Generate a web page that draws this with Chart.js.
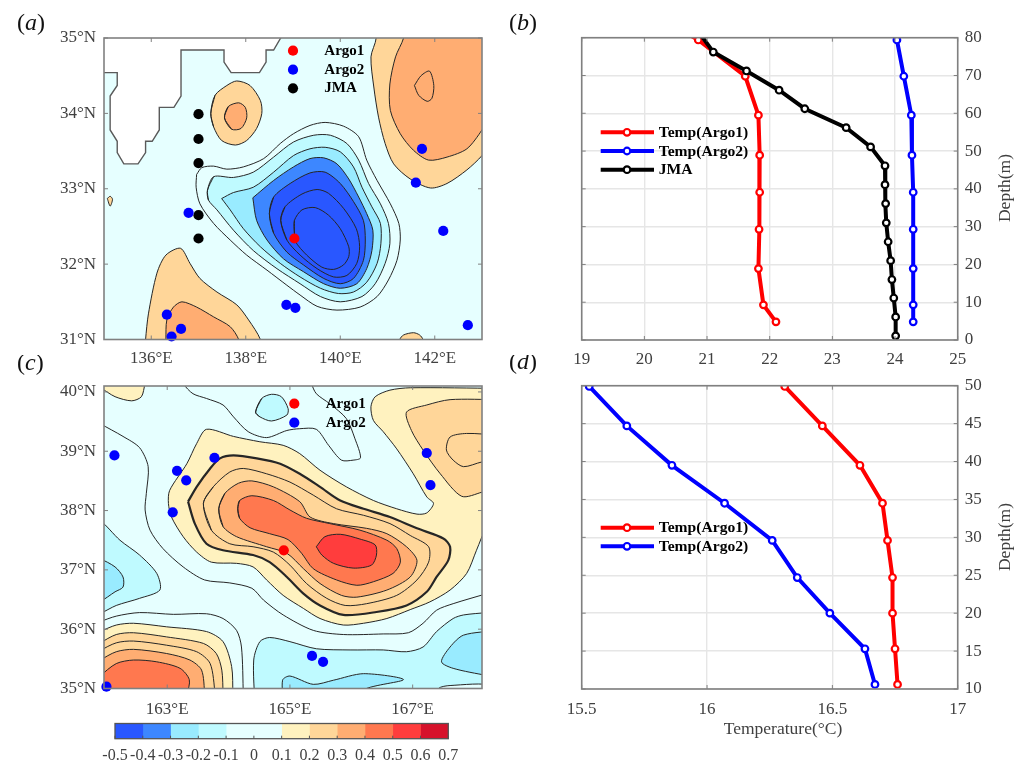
<!DOCTYPE html>
<html><head><meta charset="utf-8">
<style>html,body{margin:0;padding:0;background:#fff;width:1024px;height:765px;overflow:hidden}canvas{position:absolute}</style>
<script src="https://cdn.jsdelivr.net/npm/chart.js@4/dist/chart.umd.js"></script>
</head><body>
<script>
// ---------- panel (a) stations ----------
const aArgo1 = [[139.03,32.34]];
const aArgo2 = [[141.73,33.53],[141.60,33.08],[142.18,32.44],[142.70,31.19],[136.79,32.68],[138.86,31.46],[139.05,31.42],[136.33,31.33],[136.63,31.14],[136.43,31.04]];
const aJMA = [[137.0,33.99],[137.0,33.66],[137.0,33.34],[137.0,32.65],[137.0,32.34]];
// ---------- panel (a) contours (lon, lat) ----------
const aLand = [[138.85,35.1],[138.74,35],[138.59,34.84],[138.43,34.84],[138.43,34.68],[138.29,34.54],[137.69,34.54],[137.54,34.68],[137.54,34.84],[136.63,34.84],[136.63,34.23],[136.48,34.08],[136.17,34.08],[136.17,33.78],[136.02,33.63],[135.88,33.63],[135.88,33.48],[135.72,33.33],[135.42,33.33],[135.28,33.48],[135.28,33.63],[135.13,33.78],[135.13,34.23],[135.28,34.37],[135.28,34.54],[134.9,34.54],[134.9,35.1],[138.85,35.1]];
const aN1 = [[136.96,33.19],[137.07,33.28],[137.32,33.30],[137.60,33.26],[137.95,33.29],[138.38,33.40],[138.73,33.60],[139.01,33.73],[139.36,33.84],[139.68,33.88],[140.07,33.83],[140.39,33.69],[140.56,33.38],[140.78,33.11],[141.06,32.80],[141.24,32.54],[141.27,32.32],[141.20,32.05],[141.02,31.79],[140.78,31.57],[140.42,31.43],[139.93,31.39],[139.51,31.44],[139.15,31.59],[138.87,31.72],[138.45,31.92],[138.02,32.12],[137.67,32.32],[137.32,32.54],[137.03,32.80],[136.95,33.02]];
const aN2 = [[137.19,32.98],[137.32,33.16],[137.74,33.15],[138.16,33.22],[138.59,33.42],[139.01,33.62],[139.44,33.71],[139.79,33.71],[140.14,33.60],[140.39,33.38],[140.60,33.07],[140.85,32.80],[141.02,32.54],[141.05,32.27],[140.95,32.01],[140.74,31.74],[140.46,31.57],[140.00,31.50],[139.58,31.57],[139.15,31.74],[138.66,31.94],[138.16,32.18],[137.74,32.45],[137.39,32.72],[137.21,32.85]];
const aN3 = [[137.49,32.87],[137.74,32.95],[138.16,33.02],[138.59,33.22],[139.01,33.44],[139.36,33.53],[139.68,33.55],[140.00,33.49],[140.28,33.29],[140.46,33.02],[140.67,32.76],[140.85,32.54],[140.86,32.27],[140.78,32.01],[140.56,31.76],[140.28,31.63],[139.96,31.61],[139.58,31.68],[139.15,31.83],[138.73,32.01],[138.31,32.23],[137.95,32.47],[137.67,32.72]];
const aN4 = [[138.15,32.88],[138.59,33.11],[139.01,33.29],[139.36,33.40],[139.65,33.41],[139.93,33.33],[140.18,33.13],[140.39,32.89],[140.56,32.67],[140.69,32.45],[140.67,32.18],[140.56,31.94],[140.35,31.74],[140.00,31.68],[139.65,31.74],[139.22,31.90],[138.80,32.07],[138.45,32.32],[138.23,32.58]];
const aN5 = [[138.50,32.67],[138.59,32.89],[138.94,33.07],[139.36,33.21],[139.68,33.22],[140.00,33.07],[140.28,32.83],[140.49,32.58],[140.53,32.32],[140.49,32.05],[140.28,31.81],[140.00,31.74],[139.65,31.81],[139.22,31.99],[138.87,32.16],[138.59,32.41]];
const aN6 = [[138.74,32.58],[138.83,32.76],[139.19,32.93],[139.51,32.99],[139.75,32.94],[140.07,32.74],[140.34,32.47],[140.41,32.23],[140.35,32.01],[140.14,31.85],[139.86,31.83],[139.51,31.94],[139.15,32.12],[138.87,32.32]];
const aN7 = [[139.03,32.41],[139.03,32.58],[139.19,32.72],[139.47,32.75],[139.75,32.65],[140.00,32.47],[140.18,32.23],[140.18,32.10],[140.07,31.99],[139.86,31.93],[139.61,31.96],[139.29,32.12],[139.05,32.30]];
const aNE1 = [[140.70,35.3],[140.76,35],[140.65,34.75],[140.71,34.35],[140.81,33.95],[140.95,33.60],[141.13,33.33],[141.48,33.13],[141.91,33.01],[142.26,33.07],[142.68,33.25],[143.0,33.44],[143.3,33.7],[143.3,35.3]];
const aNE2 = [[141.40,35.3],[141.34,35],[141.17,34.75],[141.05,34.39],[141.06,34.04],[141.27,33.73],[141.55,33.51],[141.87,33.38],[142.26,33.42],[142.68,33.53],[143.0,33.78],[143.3,34.1],[143.3,35.3]];
const aNE3 = [[141.57,34.37],[141.71,34.50],[141.89,34.56],[141.98,34.37],[141.94,34.20],[141.84,34.16],[141.66,34.24]];
const aM1 = [[137.26,34.00],[137.35,34.24],[137.60,34.37],[137.81,34.43],[138.09,34.37],[138.31,34.17],[138.34,34.00],[138.23,33.80],[138.02,33.64],[137.78,33.58],[137.49,33.64],[137.32,33.82]];
const aM2 = [[137.55,33.94],[137.63,34.09],[137.85,34.14],[137.99,34.08],[138.02,33.94],[137.90,33.80],[137.70,33.79]];
const aS1 = [[135.85,30.7],[135.88,31],[135.94,31.34],[136.12,31.88],[136.31,32.12],[136.62,32.21],[136.82,32.01],[137.03,31.81],[137.39,31.63],[137.81,31.46],[138.06,31.26],[138.31,31],[138.4,30.7]];
const aS2 = [[136.30,30.7],[136.31,31],[136.33,31.26],[136.47,31.43],[136.65,31.50],[136.96,31.43],[137.32,31.30],[137.67,31.17],[137.85,31],[137.95,30.7]];
const aS3 = [[141.20,30.8],[141.26,31],[141.34,31.06],[141.55,31.09],[141.68,31.06],[141.75,31],[141.8,30.8]];
const aIsle = [[135.07,32.87],[135.13,32.90],[135.18,32.86],[135.13,32.77]];
// ---------- panel (c) stations ----------
const cArgo1 = [[164.90,37.33]];
const cArgo2 = [[162.14,38.93],[163.77,38.89],[163.16,38.67],[163.31,38.51],[163.09,37.97],[167.23,38.97],[167.29,38.43],[165.36,35.55],[165.54,35.45],[162.01,35.03]];
// ---------- panel (c) contours (lon, lat) ----------
const cY1 = [[168.4,40.06],[166.96,40.07],[166.63,40.03],[166.39,39.92],[166.32,39.75],[166.36,39.52],[166.52,39.33],[166.74,39.04],[167.01,38.62],[167.23,38.23],[167.34,38.12],[167.23,37.96],[167.07,37.94],[166.74,38.03],[166.36,38.17],[165.92,38.40],[165.49,38.68],[165.16,38.96],[164.89,39.10],[164.51,39.16],[164.08,39.25],[163.64,39.37],[163.48,39.13],[163.32,38.79],[163.04,38.34],[163.02,38.12],[163.07,37.89],[163.26,37.56],[163.48,37.30],[163.72,37.13],[164.13,37.11],[164.40,37.05],[164.62,36.83],[164.89,36.57],[165.22,36.35],[165.49,36.18],[165.87,36.07],[166.20,36.10],[166.58,36.18],[166.96,36.33],[167.28,36.46],[167.61,36.66],[167.88,36.94],[168.04,37.33],[168.21,37.73],[168.4,37.9]];
const cTL = [[161.7,40.3],[161.7,40.1],[161.90,40.07],[162.15,39.92],[162.42,39.85],[162.58,39.92],[162.64,40.14],[162.7,40.3]];
const cNorth = [[163.2,40.3],[163.26,40.14],[163.42,39.97],[163.64,39.89],[163.91,39.78],[164.08,39.58],[164.32,39.33],[164.62,39.23],[164.95,39.35],[165.16,39.38],[165.43,39.37],[165.63,39.10],[165.84,38.85],[166.03,38.85],[166.15,38.89],[166.06,39.21],[165.92,39.55],[165.65,39.80],[165.43,39.97],[165.35,40.14],[165.3,40.3]];
const cBlob = [[164.44,39.66],[164.54,39.89],[164.70,39.96],[164.86,39.92],[164.97,39.72],[164.95,39.61],[164.70,39.51],[164.51,39.58]];
const cMid = [[161.7,39.6],[161.90,39.47],[162.28,39.25],[162.55,39.06],[162.69,38.74],[162.66,38.29],[162.64,38.01],[162.72,37.67],[162.93,37.36],[163.26,37.05],[163.61,36.83],[164.02,36.78],[164.38,36.69],[164.57,36.49],[164.89,36.24],[165.38,35.98],[165.87,35.91],[166.52,35.92],[166.93,35.94],[167.17,36.10],[167.39,36.32],[167.66,36.43],[168.21,36.60],[168.4,36.66]];
const cLow = [[161.7,36.0],[161.90,36.12],[162.17,36.22],[162.55,36.28],[163.10,36.25],[163.64,36.26],[163.91,36.18],[164.13,35.98],[164.21,35.70],[164.24,34.9],[164.24,34.7]];
const cThick = [[163.34,38.15],[163.48,38.40],[163.70,38.71],[163.86,38.88],[164.08,38.93],[164.46,38.88],[164.84,38.79],[165.16,38.62],[165.49,38.40],[165.82,38.17],[166.20,38.03],[166.63,37.89],[167.07,37.70],[167.50,37.53],[167.61,37.39],[167.58,37.16],[167.39,36.88],[167.23,36.63],[166.90,36.40],[166.41,36.29],[165.87,36.24],[165.49,36.40],[165.22,36.60],[164.95,36.88],[164.67,37.13],[164.40,37.25],[163.91,37.33],[163.64,37.44],[163.45,37.78]];
const cLine2 = [[163.59,38.12],[163.75,38.40],[164.02,38.65],[164.24,38.71],[164.62,38.62],[165.00,38.48],[165.38,38.26],[165.76,38.03],[166.20,37.92],[166.63,37.78],[166.96,37.58],[167.26,37.39],[167.26,37.13],[167.07,36.83],[166.74,36.57],[166.25,36.43],[165.90,36.40],[165.60,36.52],[165.27,36.77],[165.00,37.08],[164.73,37.30],[164.40,37.39],[164.02,37.44],[163.72,37.67]];
const cL3 = [[163.84,38.03],[163.94,38.29],[164.16,38.46],[164.38,38.50],[164.73,38.40],[165.16,38.15],[165.33,37.89],[165.71,37.78],[166.25,37.70],[166.58,37.61],[166.90,37.39],[167.07,37.16],[166.96,36.88],[166.58,36.66],[166.09,36.54],[165.84,36.57],[165.49,36.77],[165.22,37.02],[164.95,37.28],[164.62,37.39],[164.13,37.56],[163.91,37.73]];
const cL4 = [[164.15,38.03],[164.18,38.17],[164.38,38.25],[164.73,38.17],[165.00,38.01],[165.27,37.87],[165.65,37.78],[166.14,37.67],[166.58,37.50],[166.74,37.36],[166.80,37.13],[166.68,36.94],[166.36,36.80],[166.09,36.74],[165.76,36.83],[165.38,37.02],[165.19,37.28],[164.97,37.51],[164.67,37.61],[164.35,37.71],[164.18,37.87]];
const cL5 = [[165.43,37.39],[165.57,37.56],[165.82,37.60],[166.14,37.52],[166.39,37.42],[166.41,37.25],[166.33,37.08],[166.03,37.03],[165.71,37.11],[165.52,37.25]];
const cNE = [[168.4,39.87],[167.61,39.87],[167.23,39.78],[166.90,39.66],[166.98,39.35],[167.17,39.02],[167.45,38.62],[167.80,38.24],[168.13,38.31],[168.4,38.4]];
const cNEin = [[168.4,39.27],[167.88,39.30],[167.61,39.24],[167.55,39.02],[167.66,38.85],[167.83,38.74],[168.13,38.82],[168.4,38.85]];
const cWest = [[161.7,37.9],[161.90,37.84],[162.23,37.50],[162.55,37.25],[162.83,36.94],[162.88,36.66],[162.55,36.52],[162.17,36.40],[161.90,36.26],[161.7,36.2]];
const cWest2 = [[161.7,37.25],[161.90,37.19],[162.15,37.05],[162.28,36.88],[162.28,36.71],[162.15,36.63],[161.90,36.46],[161.7,36.4]];
const cSouth = [[164.43,34.7],[164.41,35.48],[164.51,35.79],[164.67,35.86],[165.00,35.79],[165.43,35.67],[165.98,35.65],[166.52,35.65],[166.90,35.62],[167.17,35.70],[167.39,35.96],[167.66,36.18],[167.83,36.24],[168.21,36.28],[168.4,36.3],[168.4,34.7]];
const cSouth2 = [[164.90,34.7],[164.88,35.14],[165.00,35.21],[165.38,35.07],[165.71,35.14],[166.20,35.25],[166.85,35.15],[166.20,34.98],[166.0,34.7]];
const cEast2 = [[168.4,35.98],[167.83,35.90],[167.61,35.70],[167.47,35.45],[167.66,35.34],[168.21,35.22],[168.4,35.2]];
const cSouth3 = [[167.36,34.8],[167.42,35],[167.61,35.05],[168.3,35.05],[168.3,34.8]];
const cSW1 = [[161.7,35.9],[161.90,35.96],[162.17,36.07],[162.45,36.10],[162.99,36.04],[163.64,35.96],[163.91,35.79],[164.05,35.37],[164.07,34.9],[164.07,34.7],[161.7,34.7]];
const cSW2 = [[161.7,35.6],[161.90,35.76],[162.17,35.91],[162.45,35.94],[162.99,35.87],[163.59,35.76],[163.80,35.59],[163.89,35.31],[163.91,34.9],[163.91,34.7],[161.7,34.7]];
const cSW3 = [[161.7,35.45],[161.90,35.63],[162.17,35.77],[162.45,35.80],[162.99,35.73],[163.48,35.62],[163.70,35.42],[163.78,34.9],[163.78,34.7]];
const cSW4 = [[161.7,35.3],[161.90,35.47],[162.17,35.62],[162.45,35.66],[162.99,35.59],[163.37,35.48],[163.56,35.31],[163.61,34.9],[163.61,34.7],[161.7,34.7]];
const cSW5 = [[161.7,34.95],[161.90,35.20],[162.17,35.42],[162.45,35.48],[162.83,35.45],[163.21,35.34],[163.36,35.15],[163.33,34.9],[163.33,34.7],[161.7,34.7]];
// ---------- panel (b) profiles: temperature, depth ----------
const bTempArgo1 = [20.63,20.86,21.61,21.82,21.84,21.84,21.83,21.82,21.90,22.10];
const bDepthArgo1 = [81.6,79.4,69.8,59.5,48.9,39.1,29.3,18.9,9.3,4.8];
const bTempArgo2 = [24.03,24.14,24.26,24.27,24.29,24.29,24.29,24.29,24.29];
const bDepthArgo2 = [79.4,69.8,59.5,48.9,39.1,29.3,18.9,9.3,4.8];
const bTempJMA = [20.88,21.10,21.63,22.15,22.56,23.22,23.61,23.84,23.84,23.85,23.86,23.89,23.93,23.95,23.98,24.01,24.01];
const bDepthJMA = [81.2,76.2,71.2,66.1,61.2,56.2,51.1,46.1,41.1,36.1,31.0,26.0,21.0,16.0,11.1,6.1,1.1];
// ---------- panel (d) profiles ----------
const dTempArgo1 = [16.31,16.46,16.61,16.70,16.72,16.74,16.74,16.75,16.76];
const dTempArgo2 = [15.53,15.68,15.86,16.07,16.26,16.36,16.49,16.63,16.67];
const dDepth = [49.9,44.7,39.5,34.5,29.6,24.7,20.0,15.3,10.6];
// ---------- ticks ----------
const aLonTicks = [136,138,140,142];
const aLatTicks = [31,32,33,34,35];
const cLonTicks = [163,165,167];
const cLatTicks = [35,36,37,38,39,40];
const bTempTicks = [19,20,21,22,23,24,25];
const bDepthTicks = [0,10,20,30,40,50,60,70,80];
const dTempTicks = [15.5,16,16.5,17];
const dDepthTicks = [10,15,20,25,30,35,40,45,50];
const barLevels = [-0.5,-0.4,-0.3,-0.2,-0.1,0,0.1,0.2,0.3,0.4,0.5,0.6,0.7];
const barColors = ['#2957FF','#3D87FF','#99EBFF','#BFFAFF','#E6FFFF','#E6FFFF','#FFF2BF','#FFD699','#FFAD72','#FF784F','#FF3D3D','#D6122B'];

const SERIF = '"Liberation Serif","Times New Roman",serif';
const FRAME = '#808080', TXT = '#404040';
const C_P1=barColors[0],C_P2=barColors[1],C_P3=barColors[2],C_N1=barColors[3],C_BG=barColors[4],C_Y=barColors[6],C_O=barColors[7],C_O2=barColors[8],C_O3=barColors[9],C_R=barColors[10];

function layer(pts, bg, closed, lw, tension){
  let src = pts;
  if (closed === 2) src = [pts[pts.length-1], ...pts, pts[0], pts[1]];
  else if (closed) src = [...pts, pts[0]];
  return {data:src.map(([x,y])=>({x,y})),showLine:true,pointRadius:0,pointHoverRadius:0,fill:bg?'shape':false,backgroundColor:bg||'transparent',
    borderColor:'#262626',borderWidth:lw||1,tension:tension===undefined?0.28:tension,capBezierPoints:false,clip:0};
}
function dots(pts,color){
  return {data:pts.map(([x,y])=>({x,y})),showLine:false,pointRadius:5.1,pointHoverRadius:5.1,pointBackgroundColor:color,pointBorderWidth:0,backgroundColor:color,borderColor:color,clip:false};
}
function zipLine(label,xs,ys,color){
  return {label,data:xs.map((x,i)=>({x,y:ys[i]})),showLine:true,fill:false,borderColor:color,backgroundColor:color,borderWidth:4,tension:0,
    pointRadius:3.3,pointHoverRadius:3.3,pointBackgroundColor:'#ffffff',pointBorderColor:color,pointBorderWidth:2.2,clip:0};
}
function panelLabel(ctx,letter,x,y){
  ctx.save();ctx.fillStyle='#111';ctx.textBaseline='middle';ctx.textAlign='left';
  ctx.font='24px '+SERIF;ctx.fillText('(',x,y);let w=ctx.measureText('(').width;
  ctx.font='italic 24px '+SERIF;ctx.fillText(letter,x+w,y);let w2=ctx.measureText(letter).width;
  ctx.font='24px '+SERIF;ctx.fillText(')',x+w+w2,y);ctx.restore();
}
function makePlugin(o){
  return {id:'panel'+o.letter,
    beforeDatasetsDraw(chart){
      if(!o.bg) return;const a=chart.chartArea,c=chart.ctx;c.save();c.fillStyle=o.bg;c.fillRect(a.left,a.top,a.right-a.left,a.bottom-a.top);c.restore();
    },
    afterDraw(chart){
      const a=chart.chartArea,c=chart.ctx,sx=chart.scales.x,sy=chart.scales.y;
      c.save();c.strokeStyle=FRAME;c.lineWidth=1.6;
      c.strokeRect(a.left,a.top,a.right-a.left,a.bottom-a.top);
      c.lineWidth=1;c.beginPath();
      const t=4;
      o.xTicks.forEach(v=>{const p=sx.getPixelForValue(v);c.moveTo(p,a.bottom);c.lineTo(p,a.bottom-t);c.moveTo(p,a.top);c.lineTo(p,a.top+t);});
      o.yTicks.forEach(v=>{const p=sy.getPixelForValue(v);c.moveTo(a.left,p);c.lineTo(a.left+t,p);c.moveTo(a.right,p);c.lineTo(a.right-t,p);});
      c.stroke();c.restore();
      // legend
      c.save();c.fillStyle='#000';c.textBaseline='middle';c.textAlign='left';
      (o.legendDots||[]).forEach(l=>{
        c.font='bold 15px '+SERIF;
        c.fillStyle=l.color;c.beginPath();c.arc(l.x-o.cx,l.y-o.cy,5.1,0,Math.PI*2);c.fill();
        c.fillStyle='#000';c.fillText(l.text,l.tx-o.cx,l.y-o.cy);
      });
      (o.legendLines||[]).forEach(l=>{
        c.strokeStyle=l.color;c.lineWidth=4;c.beginPath();c.moveTo(600.7-o.cx,l.y-o.cy);c.lineTo(654-o.cx,l.y-o.cy);c.stroke();
        c.fillStyle='#ffffff';c.lineWidth=2.2;c.beginPath();c.arc(627-o.cx,l.y-o.cy,3.3,0,Math.PI*2);c.fill();c.stroke();
        c.fillStyle='#000';c.font='bold 15.6px '+SERIF;c.fillText(l.text,658.7-o.cx,l.y-o.cy+0.5);
      });
      c.restore();
      panelLabel(c,o.letter,o.lx-o.cx,o.ly-o.cy);
      if(o.depthY){
        c.save();c.translate(1005-o.cx,o.depthY-o.cy);c.rotate(-Math.PI/2);c.font='17.5px '+SERIF;c.fillStyle=TXT;c.textAlign='center';c.textBaseline='middle';c.fillText('Depth(m)',0,0);c.restore();
      }
      if(o.xTitle){
        c.save();c.font='17.5px '+SERIF;c.fillStyle=TXT;c.textAlign='center';c.textBaseline='middle';c.fillText(o.xTitle,783-o.cx,729-o.cy);c.restore();
      }
    }};
}
function panel(o){
  const cv=document.createElement('canvas');
  cv.width=o.cw;cv.height=o.ch;cv.style.left=o.cx+'px';cv.style.top=o.cy+'px';cv.style.width=o.cw+'px';cv.style.height=o.ch+'px';
  document.body.appendChild(cv);
  const A=o.area,right=o.yPos==='right';
  const yW=right?(o.cx+o.cw-A.r):(A.l-o.cx);
  const xH=o.cy+o.ch-A.b;
  new Chart(cv,{type:'line',data:{datasets:o.layers.slice().reverse()},
    plugins:[makePlugin(o)],
    options:{responsive:false,animation:false,devicePixelRatio:1,events:[],
      layout:{autoPadding:false,padding:{top:A.t-o.cy,left:right?A.l-o.cx:0,right:right?0:o.cx+o.cw-A.r,bottom:0}},
      plugins:{legend:{display:false},tooltip:{enabled:false},title:{display:false}},
      scales:{
        x:{type:'linear',position:'bottom',min:o.xMin,max:o.xMax,
          afterBuildTicks(s){s.ticks=o.xTicks.map(v=>({value:v}));},
          afterFit(s){s.height=xH;},
          grid:{display:!!o.grid,color:'#e6e6e6',lineWidth:1.4,drawTicks:false},border:{display:false},
          ticks:{autoSkip:false,maxRotation:0,minRotation:0,padding:o.xPad||9,color:TXT,font:{family:SERIF,size:17},callback:o.xFmt}},
        y:{type:'linear',position:o.yPos,min:o.yMin,max:o.yMax,
          afterBuildTicks(s){s.ticks=o.yTicks.map(v=>({value:v}));},
          afterFit(s){s.width=yW;},
          grid:{display:!!o.grid,color:'#e6e6e6',lineWidth:1.4,drawTicks:false},border:{display:false},
          ticks:{autoSkip:false,maxRotation:0,minRotation:0,padding:o.yPad||8,color:TXT,font:{family:SERIF,size:17},callback:o.yFmt}}
      }}});
}
const fmtPlain=v=>String(v);
// panel (a)
panel({letter:'a',lx:17,ly:24,cx:0,cy:0,cw:510,ch:380,area:{l:104,r:482,t:38,b:339.5},yPos:'left',bg:C_BG,
  xMin:135,xMax:143,yMin:31,yMax:35,xTicks:aLonTicks,yTicks:aLatTicks,xFmt:v=>v+'°E',yFmt:v=>v+'°N',
  legendDots:[{color:'#ff0000',x:293,y:50.7,tx:324.3,text:'Argo1'},{color:'#0000ff',x:293,y:69.7,tx:324.3,text:'Argo2'},{color:'#000',x:293,y:88.3,tx:324.3,text:'JMA'}],
  layers:[
    layer(aIsle,C_O,true),layer(aNE1,C_O),layer(aNE2,C_O2),layer(aNE3,null,true),
    layer(aM1,C_O,2),layer(aM2,C_O2,2),layer(aS1,C_O),layer(aS2,C_O2),layer(aS3,C_O),
    Object.assign(layer(aLand,'#ffffff',false,1.4,0),{borderColor:'#5a5a5a'}),
    layer(aN1,null,true),layer(aN2,C_N1,2),layer(aN3,C_P3,true),layer(aN4,C_P2,true),layer(aN5,C_P1,2),layer(aN6,null,2),layer(aN7,null,2),
    dots(aJMA,'#000'),dots(aArgo2,'#0000ff'),dots(aArgo1,'#ff0000')
  ]});
// panel (c)
panel({letter:'c',lx:17,ly:364,cx:0,cy:355,cw:510,ch:375,area:{l:104,r:482,t:386,b:688.5},yPos:'left',bg:C_BG,xPad:11,
  xMin:161.97,xMax:168.13,yMin:35,yMax:40.1,xTicks:cLonTicks,yTicks:cLatTicks,xFmt:v=>v+'°E',yFmt:v=>v+'°N',
  legendDots:[{color:'#ff0000',x:294.3,y:403.7,tx:325.7,text:'Argo1'},{color:'#0000ff',x:294.3,y:422.7,tx:325.7,text:'Argo2'}],
  layers:[
    layer(cWest,C_N1),layer(cWest2,C_P3),layer(cSouth,C_N1),layer(cSouth2,C_P3),layer(cEast2,C_P3),layer(cSouth3,C_BG),
    layer(cMid),layer(cLow),layer(cNorth),layer(cBlob,C_N1,2),
    layer(cTL,C_Y),layer(cY1,C_Y),layer(cNE,C_O),layer(cNEin),
    layer(cSW1,C_Y),layer(cSW2,C_O),layer(cSW3),layer(cSW4,C_O2),layer(cSW5,C_O3),
    layer(cThick,C_O,true,2.2),layer(cLine2,null,2),layer(cL3,C_O2,2),layer(cL4,C_O3,2),layer(cL5,C_R,true),
    dots(cArgo2,'#0000ff'),dots(cArgo1,'#ff0000')
  ]});
// panel (b)
panel({letter:'b',lx:509,ly:24,cx:505,cy:0,cw:519,ch:380,area:{l:581.7,r:957.7,t:37.7,b:340},yPos:'right',grid:true,
  xMin:19,xMax:25,yMin:0,yMax:80,xTicks:bTempTicks,yTicks:bDepthTicks,xFmt:fmtPlain,yFmt:fmtPlain,yPad:7,depthY:188,
  legendLines:[{color:'#ff0000',y:132.3,text:'Temp(Argo1)'},{color:'#0000ff',y:151,text:'Temp(Argo2)'},{color:'#000',y:169.7,text:'JMA'}],
  layers:[zipLine('Temp(Argo1)',bTempArgo1,bDepthArgo1,'#ff0000'),zipLine('Temp(Argo2)',bTempArgo2,bDepthArgo2,'#0000ff'),zipLine('JMA',bTempJMA,bDepthJMA,'#000')]
});
// panel (d)
panel({letter:'d',lx:509,ly:363,cx:505,cy:355,cw:519,ch:385,area:{l:581.7,r:957.7,t:385.7,b:689},yPos:'right',grid:true,xPad:10,
  xMin:15.5,xMax:17,yMin:10,yMax:50,xTicks:dTempTicks,yTicks:dDepthTicks,xFmt:fmtPlain,yFmt:fmtPlain,yPad:7,depthY:537,xTitle:'Temperature(°C)',
  legendLines:[{color:'#ff0000',y:527.7,text:'Temp(Argo1)'},{color:'#0000ff',y:546.3,text:'Temp(Argo2)'}],
  layers:[zipLine('Temp(Argo1)',dTempArgo1,dDepth,'#ff0000'),zipLine('Temp(Argo2)',dTempArgo2,dDepth,'#0000ff')]
});
// colour bar
(function(){
  const cv=document.createElement('canvas');const cx=90,cy=715,cw=400,ch=50;
  cv.width=cw;cv.height=ch;cv.style.left=cx+'px';cv.style.top=cy+'px';cv.style.width=cw+'px';cv.style.height=ch+'px';
  document.body.appendChild(cv);
  const L=115,R=448.3,T=723.5,B=738.7;
  new Chart(cv,{type:'bar',
    data:{labels:[''],datasets:barColors.map((col,i)=>({label:String(barLevels[i]),data:[[barLevels[i],barLevels[i+1]]],backgroundColor:col,borderWidth:0,barPercentage:1,categoryPercentage:1,grouped:false}))},
    plugins:[{id:'cbframe',afterDraw(chart){
      const a=chart.chartArea,c=chart.ctx,sx=chart.scales.x;c.save();c.strokeStyle='#555';c.lineWidth=1.3;
      c.strokeRect(a.left,a.top,a.right-a.left,a.bottom-a.top);c.lineWidth=1;c.beginPath();
      barLevels.forEach(v=>{const p=sx.getPixelForValue(v);c.moveTo(p,a.bottom);c.lineTo(p,a.bottom-3);});c.stroke();c.restore();
    }}],
    options:{indexAxis:'y',responsive:false,animation:false,devicePixelRatio:1,events:[],
      layout:{autoPadding:false,padding:{top:T-cy,left:L-cx,right:cx+cw-R,bottom:0}},
      plugins:{legend:{display:false},tooltip:{enabled:false}},
      scales:{
        y:{type:'category',display:false,grid:{display:false}},
        x:{type:'linear',position:'bottom',min:-0.5,max:0.7,
          afterBuildTicks(s){s.ticks=barLevels.map(v=>({value:v}));},
          afterFit(s){s.height=cy+ch-B;},
          grid:{display:false,drawTicks:false},border:{display:false},
          ticks:{autoSkip:false,maxRotation:0,minRotation:0,padding:7,color:TXT,font:{family:SERIF,size:16},callback:v=>v===0?'0':Number(v).toFixed(1)}}
      }}});
})();
</script>
</body></html>
